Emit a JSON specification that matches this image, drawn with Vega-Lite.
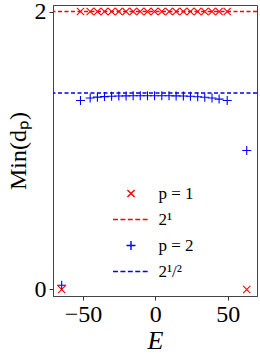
{
  "$schema": "https://vega.github.io/schema/vega-lite/v6.json",
  "width": 204,
  "height": 291,
  "autosize": {"type": "none"},
  "padding": {"left": 53, "top": 5, "right": 3, "bottom": 62},
  "config": {
    "font": "Liberation Serif",
    "view": {"stroke": "#444", "strokeWidth": 1}
  },
  "datasets": {
    "pts": [
      {"E": -64.7, "v": 0.0, "s": "p = 1"},
      {"E": -51.7, "v": 2.0, "s": "p = 1"},
      {"E": -45.0, "v": 2.0, "s": "p = 1"},
      {"E": -40.0, "v": 2.0, "s": "p = 1"},
      {"E": -35.1, "v": 2.0, "s": "p = 1"},
      {"E": -30.2, "v": 2.0, "s": "p = 1"},
      {"E": -25.2, "v": 2.0, "s": "p = 1"},
      {"E": -20.2, "v": 2.0, "s": "p = 1"},
      {"E": -15.3, "v": 2.0, "s": "p = 1"},
      {"E": -10.4, "v": 2.0, "s": "p = 1"},
      {"E": -5.4, "v": 2.0, "s": "p = 1"},
      {"E": -0.5, "v": 2.0, "s": "p = 1"},
      {"E": 4.5, "v": 2.0, "s": "p = 1"},
      {"E": 9.5, "v": 2.0, "s": "p = 1"},
      {"E": 14.4, "v": 2.0, "s": "p = 1"},
      {"E": 19.4, "v": 2.0, "s": "p = 1"},
      {"E": 24.3, "v": 2.0, "s": "p = 1"},
      {"E": 29.3, "v": 2.0, "s": "p = 1"},
      {"E": 34.2, "v": 2.0, "s": "p = 1"},
      {"E": 39.2, "v": 2.0, "s": "p = 1"},
      {"E": 44.1, "v": 2.0, "s": "p = 1"},
      {"E": 49.7, "v": 2.0, "s": "p = 1"},
      {"E": 63.2, "v": 0.0, "s": "p = 1"},
      {"E": -64.7, "v": 0.03, "s": "p = 2"},
      {"E": -51.7, "v": 1.36, "s": "p = 2"},
      {"E": -45.0, "v": 1.378, "s": "p = 2"},
      {"E": -40.0, "v": 1.384, "s": "p = 2"},
      {"E": -35.1, "v": 1.388, "s": "p = 2"},
      {"E": -30.2, "v": 1.39, "s": "p = 2"},
      {"E": -25.2, "v": 1.392, "s": "p = 2"},
      {"E": -20.2, "v": 1.393, "s": "p = 2"},
      {"E": -15.3, "v": 1.394, "s": "p = 2"},
      {"E": -10.4, "v": 1.394, "s": "p = 2"},
      {"E": -5.4, "v": 1.394, "s": "p = 2"},
      {"E": -0.5, "v": 1.394, "s": "p = 2"},
      {"E": 4.5, "v": 1.394, "s": "p = 2"},
      {"E": 9.5, "v": 1.394, "s": "p = 2"},
      {"E": 14.4, "v": 1.393, "s": "p = 2"},
      {"E": 19.4, "v": 1.392, "s": "p = 2"},
      {"E": 24.3, "v": 1.39, "s": "p = 2"},
      {"E": 29.3, "v": 1.387, "s": "p = 2"},
      {"E": 34.2, "v": 1.383, "s": "p = 2"},
      {"E": 39.2, "v": 1.378, "s": "p = 2"},
      {"E": 44.1, "v": 1.37, "s": "p = 2"},
      {"E": 49.7, "v": 1.36, "s": "p = 2"},
      {"E": 63.2, "v": 1.0, "s": "p = 2"}
    ]
  },
  "layer": [
    {
      "data": {"values": [{"v": 2.0}]},
      "mark": {"type": "rule", "strokeDash": [4, 2.5], "strokeWidth": 1.6, "stroke": "#ff0000"},
      "encoding": {
        "y": {"field": "v", "type": "quantitative", "scale": {"domain": [-0.047, 2.047]}}
      }
    },
    {
      "data": {"values": [{"v": 1.41421}]},
      "mark": {"type": "rule", "strokeDash": [4, 2.5], "strokeWidth": 1.6, "stroke": "#0000ff"},
      "encoding": {
        "y": {"field": "v", "type": "quantitative"}
      }
    },
    {
      "data": {"name": "pts"},
      "mark": {"type": "point", "filled": false, "strokeWidth": 1.1, "size": 81, "clip": false, "opacity": 1},
      "encoding": {
        "x": {
          "field": "E", "type": "quantitative",
          "scale": {"domain": [-70.7, 70.3], "nice": false, "zero": false},
          "axis": {
            "values": [-50, 0, 50], "title": "E", "titleFontStyle": "italic",
            "titleFont": "Liberation Serif", "labelFont": "Liberation Serif",
            "titleFontWeight": "normal", "titleFontSize": 26, "titlePadding": 1,
            "labelFontSize": 24, "labelColor": "black", "titleColor": "black",
            "grid": false, "tickColor": "#333", "domainColor": "#444", "tickSize": 4, "labelPadding": 2
          }
        },
        "y": {
          "field": "v", "type": "quantitative",
          "scale": {"domain": [-0.047, 2.047], "nice": false, "zero": false},
          "axis": {
            "values": [0, 1, 2], "format": "d", "title": "Min(dₚ)", "titleFontWeight": "normal",
            "titleFont": "Liberation Serif", "labelFont": "Liberation Serif",
            "titleFontSize": 24, "titlePadding": 4, "labelFontSize": 24,
            "labelColor": "black", "titleColor": "black", "grid": false,
            "tickColor": "#333", "domainColor": "#444", "tickSize": 4, "labelPadding": 3
          }
        },
        "color": {
          "field": "s", "type": "nominal",
          "scale": {"domain": ["p = 1", "2¹", "p = 2", "2¹/²"], "range": ["#ff0000", "#ff0000", "#0000ff", "#0000ff"]},
          "legend": {
            "title": null, "orient": "none", "legendX": 69.5, "legendY": 180, "padding": 0,
            "labelFont": "Liberation Serif",
            "labelFontSize": 17, "labelColor": "black",
            "symbolSize": 81, "symbolStrokeWidth": 1.4, "rowPadding": 8, "labelOffset": 19,
            "symbolOpacity": 1
          }
        },
        "shape": {
          "field": "s", "type": "nominal",
          "scale": {
            "domain": ["p = 1", "2¹", "p = 2", "2¹/²"],
            "range": [
              "M-0.8,-0.8L0.8,0.8M-0.8,0.8L0.8,-0.8",
              "M-4,0H-2.9M-2.35,0H-1.25M-0.7,0H0.4M0.95,0H2.05M2.6,0H3.7",
              "M-1,0L1,0M0,-1L0,1",
              "M-4,0H-2.9M-2.35,0H-1.25M-0.7,0H0.4M0.95,0H2.05M2.6,0H3.7"
            ]
          }
        }
      }
    }
  ]
}
